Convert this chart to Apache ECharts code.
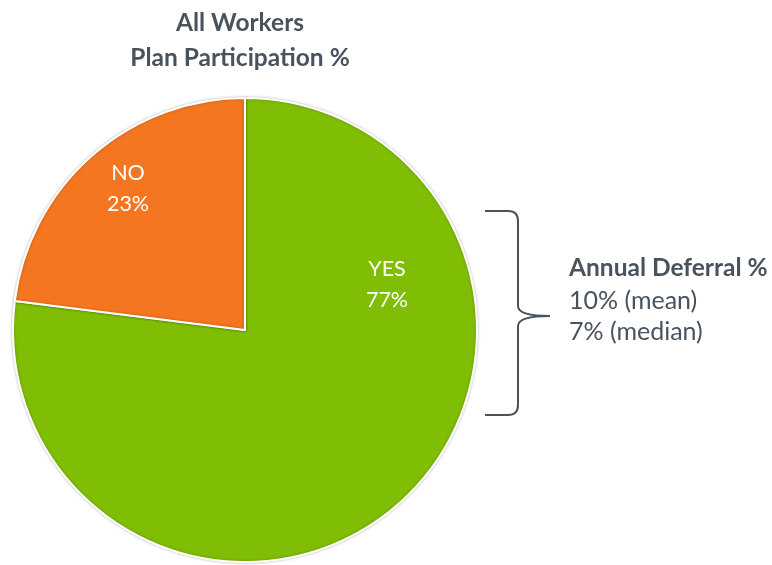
<!DOCTYPE html>
<html>
<head>
<meta charset="utf-8">
<script src="https://cdn.jsdelivr.net/npm/echarts@6/dist/echarts.min.js"></script>
<style>
  html, body { margin: 0; padding: 0; background: #fff; }
  #chart { width: 772px; height: 565px; }
</style>
</head>
<body>
<div id="chart"></div>
<script>
const titleLines = ['All Workers', 'Plan Participation %'];
const categories = ['YES', 'NO'];
const values = [77, 23];
const sliceColors = ['#80BD05', '#F47621'];
const deferralTitle = 'Annual Deferral %';
const deferralLines = ['10% (mean)', '7% (median)'];

const textColor = '#48535E';
const fontFamily = 'Lato, "Open Sans", sans-serif';

// label spots (pixels) for each slice, same order as categories
const labelSpots = [[387, 285], [128, 189]];

let chart = echarts.init(document.getElementById('chart'));

// curly brace to the right of the pie
const braceStyle = { stroke: textColor, lineWidth: 2, fill: null };
const brace = [
  { type: 'line', shape: { x1: 485, y1: 211, x2: 508, y2: 211 } },
  { type: 'bezierCurve', shape: { x1: 508, y1: 211, cpx1: 518, cpy1: 211, x2: 518, y2: 221 } },
  { type: 'line', shape: { x1: 518, y1: 221, x2: 518, y2: 306 } },
  { type: 'bezierCurve', shape: { x1: 518, y1: 306, cpx1: 518, cpy1: 316, x2: 550, y2: 316 } },
  { type: 'bezierCurve', shape: { x1: 550, y1: 316, cpx1: 518, cpy1: 316, x2: 518, y2: 326 } },
  { type: 'line', shape: { x1: 518, y1: 326, x2: 518, y2: 405 } },
  { type: 'bezierCurve', shape: { x1: 518, y1: 405, cpx1: 518, cpy1: 415, x2: 508, y2: 415 } },
  { type: 'line', shape: { x1: 508, y1: 415, x2: 485, y2: 415 } }
].map(e => Object.assign(e, { style: braceStyle, silent: true }));

var option = {
  animation: false,
  title: {
    text: titleLines.join('\n'),
    left: 235,
    top: 1,
    textAlign: 'center',
    textStyle: {
      color: textColor,
      fontFamily: fontFamily,
      fontWeight: 'bold',
      fontSize: 24.5,
      lineHeight: 35
    }
  },
  series: [
    {
      type: 'pie',
      center: [245, 330],
      radius: 232,
      startAngle: 90,
      clockwise: true,
      data: categories.map((c, i) => ({
        name: c,
        value: values[i],
        itemStyle: { color: sliceColors[i] }
      })),
      itemStyle: {
        borderColor: '#fff',
        borderWidth: 2,
        shadowBlur: 3,
        shadowColor: 'rgba(0,0,0,0.25)'
      },
      label: {
        show: true,
        position: 'inside',
        formatter: p => p.name + '\n' + p.value + '%',
        color: '#fff',
        fontFamily: fontFamily,
        fontSize: 21.5,
        lineHeight: 31,
        align: 'center'
      },
      labelLayout: function (params) {
        const s = labelSpots[params.dataIndex];
        return { x: s[0], y: s[1], align: 'center', verticalAlign: 'middle' };
      },
      emphasis: { disabled: true }
    }
  ],
  graphic: brace.concat([
    {
      type: 'text',
      left: 569,
      top: 256,
      style: {
        text: deferralTitle,
        fill: textColor,
        font: 'bold 24.5px ' + fontFamily
      }
    },
    {
      type: 'text',
      left: 569,
      top: 285,
      style: {
        text: deferralLines.join('\n'),
        fill: textColor,
        font: '25px ' + fontFamily,
        lineHeight: 31
      }
    }
  ])
};
chart.setOption(option);
</script>
</body>
</html>
